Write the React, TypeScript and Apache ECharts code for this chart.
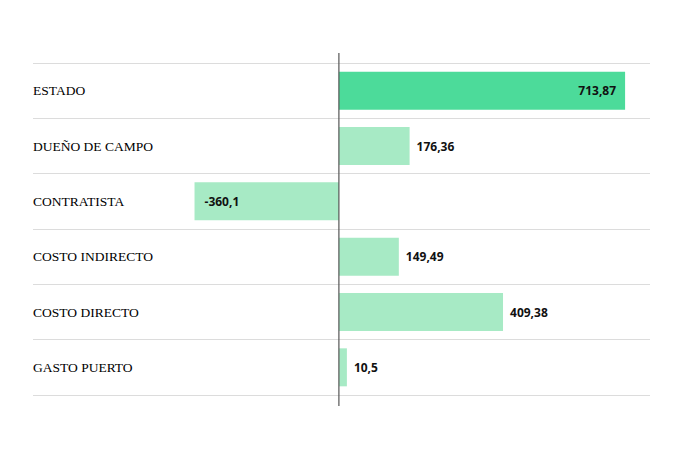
import React, { useEffect, useRef } from "react";
import * as echarts from "echarts";

const categories = ["ESTADO", "DUEÑO DE CAMPO", "CONTRATISTA", "COSTO INDIRECTO", "COSTO DIRECTO", "GASTO PUERTO"];
const values = [713.87, 176.36, -360.1, 149.49, 409.38, 10.5];
const highlight = "ESTADO";

const fmt = (v: number) => String(v).replace(".", ",");

export default function App() {
  const ref = useRef<HTMLDivElement>(null);
  useEffect(() => {
    const chart = echarts.init(ref.current!, null, { renderer: "svg" });
    const data = values.map((v, i) => {
      const isHi = categories[i] === highlight;
      return {
        value: v,
        itemStyle: { color: isHi ? "#4cdb9a" : "#a7eac5" },
        label: {
          show: true,
          position: isHi ? "insideRight" : v < 0 ? "insideLeft" : "right",
          distance: isHi ? 9 : v < 0 ? 10 : 7,
        },
      };
    });
    chart.setOption({
      animation: false,
      grid: { left: 33, right: 34, top: 63, bottom: 61, containLabel: false },
      xAxis: {
        type: "value",
        min: -763,
        max: 776,
        show: false,
        splitLine: { show: false },
      },
      yAxis: {
        type: "category",
        inverse: true,
        data: categories,
        axisLine: { show: false },
        axisTick: { show: false },
        splitLine: { show: true, lineStyle: { color: "#dcdcdc", width: 1 } },
        axisLabel: {
          align: "left",
          margin: 0,
          color: "#000",
          fontFamily: "Liberation Serif",
          fontSize: 13.5,
        },
      },
      series: [
        {
          type: "bar",
          data,
          barWidth: 38,
          barMinHeight: 8,
          label: {
            color: "#111",
            fontFamily: "Open Sans",
            fontWeight: "bold",
            fontSize: 12,
            formatter: (p: any) => fmt(p.value),
          },
        },
      ],
    });
    const top = chart.convertToPixel({ gridIndex: 0 }, [0, -0.5]) as number[];
    const zx = top[0];
    chart.setOption({
      graphic: [
        {
          type: "line",
          shape: { x1: zx, y1: 53, x2: zx, y2: 406 },
          style: { stroke: "#555", lineWidth: 1.2 },
          z: 10,
        },
      ],
    });
    return () => chart.dispose();
  }, []);
  return <div ref={ref} style={{ position: "absolute", left: 0, top: 0, width: 684, height: 456 }} />;
}
